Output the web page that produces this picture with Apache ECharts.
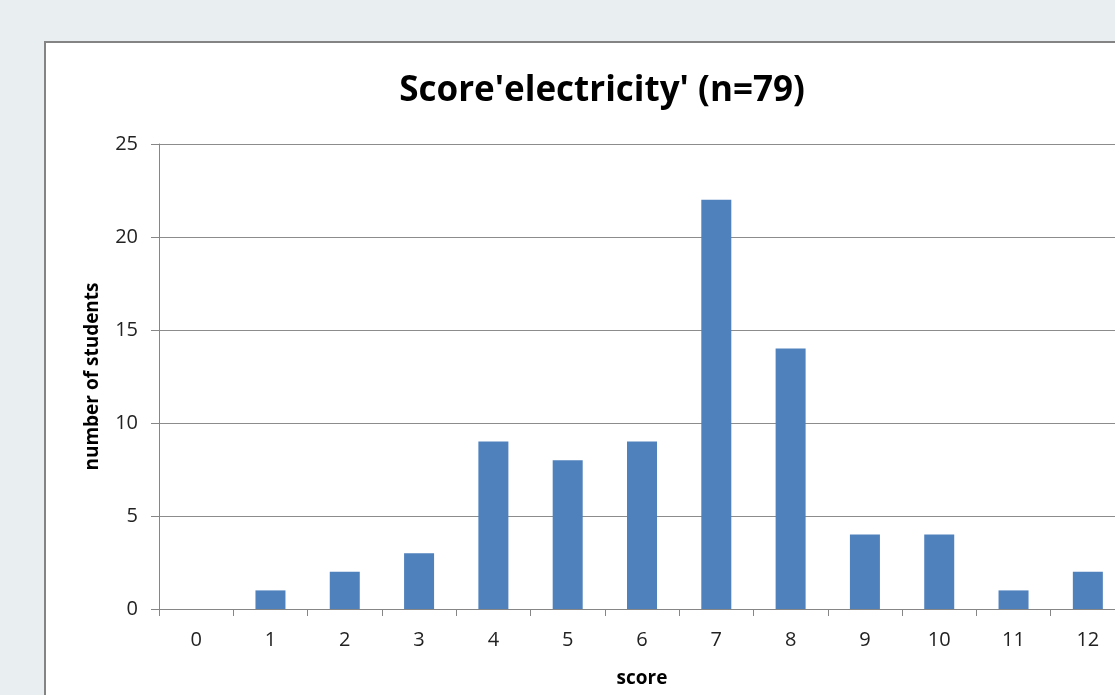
<!DOCTYPE html>
<html>
<head>
<meta charset="utf-8">
<script src="https://cdn.jsdelivr.net/npm/echarts@6/dist/echarts.min.js"></script>
<style>
  html, body { margin: 0; padding: 0; width: 1115px; height: 695px; overflow: hidden; background: #e9eef1; }
  #box { position: absolute; left: 44px; top: 41px; width: 1200px; height: 800px; background: #fff; border: 2px solid #848484; }
  #main { position: absolute; left: 0; top: 0; width: 1135px; height: 695px; }
</style>
</head>
<body>
<div id="box"></div>
<div id="main"></div>
<script>
// scores on the x axis
const scores = ['0', '1', '2', '3', '4', '5', '6', '7', '8', '9', '10', '11', '12'];
// number of students per score (total 79)
const students = [0, 1, 2, 3, 9, 8, 9, 22, 14, 4, 4, 1, 2];

const font = '"Open Sans", "Noto Sans", sans-serif';

echarts.init(document.getElementById('main')).setOption({
  animation: false,
  title: {
    text: "Score'electricity' (n=79)",
    left: 597,
    textAlign: 'center',
    top: 69,
    textStyle: { fontFamily: font, fontSize: 35, fontWeight: 'bold', color: '#000' }
  },
  grid: { left: 159, top: 144, width: 966, height: 465, containLabel: false, outerBoundsMode: 'none' },
  xAxis: {
    type: 'category',
    data: scores,
    name: 'score',
    nameLocation: 'middle',
    nameGap: 60,
    nameTextStyle: { fontFamily: font, fontSize: 19, fontWeight: 'bold', color: '#000' },
    axisLine: { lineStyle: { color: '#868686', width: 1 } },
    axisTick: { show: true, length: 7, lineStyle: { color: '#868686' } },
    axisLabel: { fontFamily: font, fontSize: 20, color: '#222', margin: 21 }
  },
  yAxis: {
    type: 'value',
    min: 0,
    max: 25,
    interval: 5,
    name: 'number of students',
    nameLocation: 'middle',
    nameGap: 57,
    nameTextStyle: { fontFamily: font, fontSize: 19, fontWeight: 'bold', color: '#000' },
    axisLine: { show: true, lineStyle: { color: '#868686', width: 1 } },
    axisTick: { show: true, length: 8, lineStyle: { color: '#868686' } },
    axisLabel: { fontFamily: font, fontSize: 20, color: '#222', margin: 21 },
    splitLine: { lineStyle: { color: '#8c8c8c', width: 1 } }
  },
  series: [{
    type: 'bar',
    data: students,
    barWidth: 30,
    itemStyle: { color: '#4f81bd' }
  }]
});
</script>
</body>
</html>
